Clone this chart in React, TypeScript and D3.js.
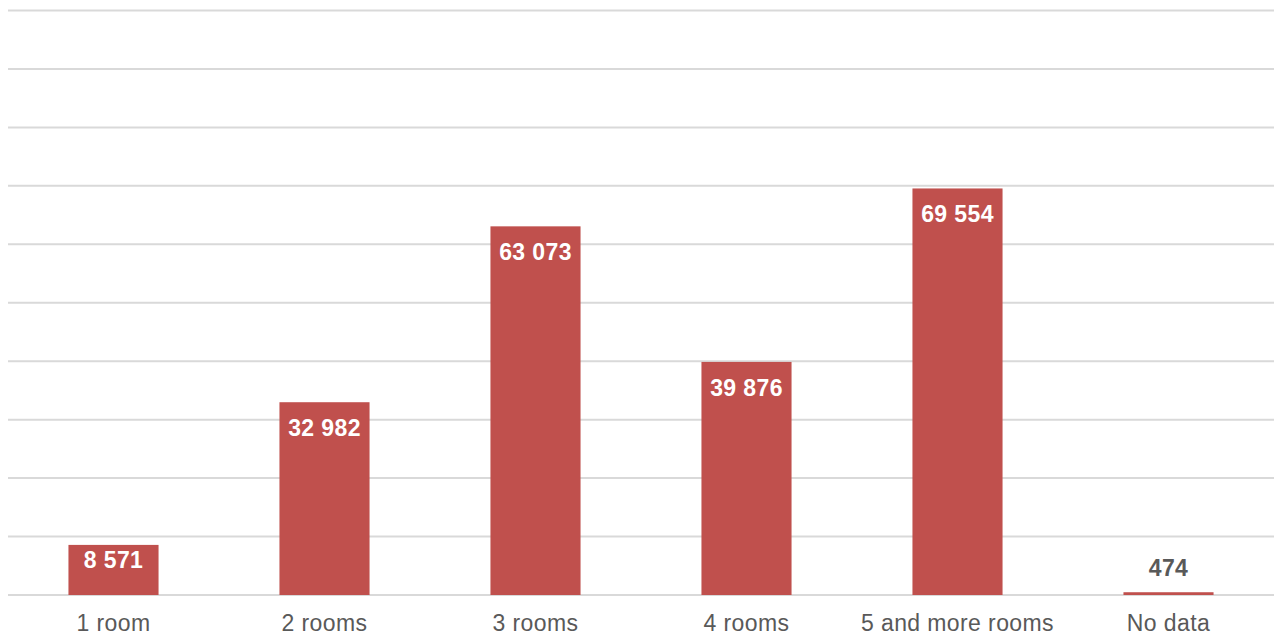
import React from "react";
import * as d3 from "d3";

const categories = ["1 room", "2 rooms", "3 rooms", "4 rooms", "5 and more rooms", "No data"];
const values = [8571, 32982, 63073, 39876, 69554, 474];
const gridTicks = [0, 10000, 20000, 30000, 40000, 50000, 60000, 70000, 80000, 90000, 100000];

const W = 1274;
const H = 639;
const margin = { left: 8, right: 0, top: 10.5, bottom: 44 };

const fmt = (v: number) => d3.format(",")(v).replace(/,/g, " ");

export default function App() {
  const x = d3
    .scaleBand<string>()
    .domain(categories)
    .range([margin.left, W - margin.right])
    .paddingInner(0.573)
    .paddingOuter(0.2865);
  const y = d3.scaleLinear().domain([0, 100000]).range([H - margin.bottom, margin.top]);
  const font = "'Liberation Sans', Arial, sans-serif";

  return (
    <svg width={W} height={H} style={{ position: "absolute", left: 0, top: 0, background: "#fff" }}>
      {gridTicks.map((t) => (
        <line key={t} x1={margin.left} x2={W - margin.right} y1={y(t)} y2={y(t)} stroke="#d9d9d9" strokeWidth={2} />
      ))}
      {values.map((v, i) => {
        const c = categories[i];
        const bx = x(c)!;
        const bw = x.bandwidth();
        const top = y(v);
        const h = y(0) - top;
        const inside = h > 30;
        const labelY = inside ? (h > 70 ? top + 34 : top + 23) : top - 16;
        return (
          <g key={c}>
            <rect x={bx} y={top} width={bw} height={Math.max(h, 2)} fill="#C0504D" />
            <text
              x={bx + bw / 2}
              y={labelY}
              textAnchor="middle"
              fontFamily={font}
              fontWeight="bold"
              fontSize={23}
              letterSpacing={0.4}
              fill={inside ? "#ffffff" : "#595959"}
            >
              {fmt(v)}
            </text>
            <text
              x={bx + bw / 2}
              y={631}
              textAnchor="middle"
              fontFamily={font}
              fontSize={23}
              letterSpacing={0.4}
              fill="#595959"
            >
              {c}
            </text>
          </g>
        );
      })}
    </svg>
  );
}
